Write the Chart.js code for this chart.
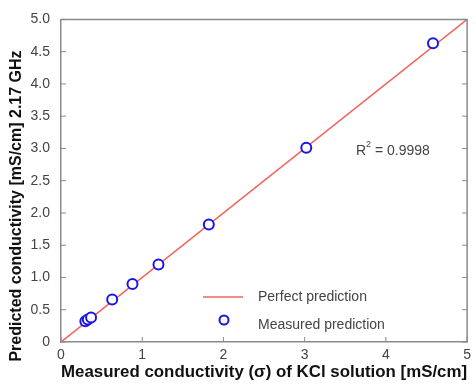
<!DOCTYPE html>
<html>
<head>
<meta charset="utf-8">
<script src="https://cdn.jsdelivr.net/npm/chart.js@4.4.1/dist/chart.umd.min.js"></script>
<style>
  html, body { margin: 0; padding: 0; background: #fff; }
  #wrap { width: 476px; height: 384px; }
</style>
</head>
<body>
<div id="wrap"><canvas id="chart" width="476" height="384"></canvas></div>
<script>
// measured vs predicted conductivity (mS/cm)
const measuredX = [0.30, 0.33, 0.37, 0.63, 0.88, 1.20, 1.82, 3.02, 4.58];
const predictedY = [0.32, 0.35, 0.38, 0.66, 0.90, 1.20, 1.82, 3.01, 4.63];
const perfectLine = [0, 5];
const xTicks = [0, 1, 2, 3, 4, 5];
const yTicks = [0, 0.5, 1, 1.5, 2, 2.5, 3, 3.5, 4, 4.5, 5];
const r2Text = '0.9998';
const yTitle = 'Predicted conductivity [mS/cm] 2.17 GHz';

const axisColor = '#8a8a8a';
const textColor = '#444';
const fontFam = '"Liberation Sans", Arial, sans-serif';

// inward ticks, frame, y title, R² note and legend
const decor = {
    id: 'decor',
    afterDraw(chart) {
        const ctx = chart.ctx;
        const xs = chart.scales.x, ys = chart.scales.y;
        const a = chart.chartArea;
        ctx.save();
        ctx.strokeStyle = axisColor;
        ctx.lineWidth = 1.5;
        ctx.beginPath();
        ctx.moveTo(a.left, a.top);
        ctx.lineTo(a.right, a.top);
        ctx.lineTo(a.right, a.bottom);
        ctx.stroke();
        ctx.lineWidth = 1;
        ctx.beginPath();
        xTicks.forEach(v => {
            const px = xs.getPixelForValue(v);
            ctx.moveTo(px, a.bottom);
            ctx.lineTo(px, a.bottom - 5);
        });
        yTicks.forEach(v => {
            const py = ys.getPixelForValue(v);
            ctx.moveTo(a.left, py);
            ctx.lineTo(a.left + 5, py);
            ctx.moveTo(a.right, py);
            ctx.lineTo(a.right - 5, py);
        });
        ctx.stroke();

        // y title
        ctx.save();
        ctx.translate(17, 206);
        ctx.rotate(-Math.PI / 2);
        ctx.fillStyle = '#111';
        ctx.font = 'bold 16px ' + fontFam;
        ctx.textAlign = 'center';
        ctx.textBaseline = 'middle';
        ctx.fillText(yTitle, 0, 0);
        ctx.restore();

        // R² text
        ctx.fillStyle = textColor;
        ctx.font = '14px ' + fontFam;
        ctx.textBaseline = 'middle';
        ctx.textAlign = 'left';
        ctx.fillText('R', 356, 151);
        const rw = ctx.measureText('R').width;
        ctx.font = '9px ' + fontFam;
        ctx.fillText('2', 356 + rw, 145);
        const sw = ctx.measureText('2').width;
        ctx.font = '14px ' + fontFam;
        ctx.fillText(' = ' + r2Text, 356 + rw + sw, 151);

        // legend
        const d0 = chart.data.datasets[0], d1 = chart.data.datasets[1];
        ctx.strokeStyle = d0.borderColor;
        ctx.lineWidth = d0.borderWidth;
        ctx.beginPath();
        ctx.moveTo(203, 297);
        ctx.lineTo(243, 297);
        ctx.stroke();
        ctx.strokeStyle = d1.borderColor;
        ctx.fillStyle = '#fff';
        ctx.lineWidth = d1.borderWidth;
        ctx.beginPath();
        ctx.arc(224, 320, 4.5, 0, Math.PI * 2);
        ctx.fill();
        ctx.stroke();
        ctx.fillStyle = textColor;
        ctx.fillText(d0.label, 258, 297);
        ctx.fillText(d1.label, 258, 325);
        ctx.restore();
    }
};

const ctx = document.getElementById('chart').getContext('2d');
const chart = new Chart(ctx, {
    data: {
        datasets: [{
            type: 'line',
            label: 'Perfect prediction',
            data: perfectLine.map(v => ({x: v, y: v})),
            borderColor: '#f2625c',
            borderWidth: 1.5,
            pointRadius: 0,
            order: 2
        },
        {
            type: 'scatter',
            label: 'Measured prediction',
            data: measuredX.map((v, i) => ({x: v, y: predictedY[i]})),
            borderColor: '#1a14e6',
            backgroundColor: '#fff',
            borderWidth: 2,
            pointRadius: 5,
            order: 1
        }]
    },
    options: {
        responsive: false,
        animation: false,
        layout: { padding: { top: 16, right: 4, left: 0, bottom: 0 } },
        plugins: { legend: { display: false }, tooltip: { enabled: false } },
        scales: {
            x: {
                type: 'linear', min: 0, max: 5,
                afterBuildTicks: s => { s.ticks = xTicks.map(v => ({value: v})); },
                afterFit: s => { s.height = 42; },
                grid: { drawOnChartArea: false, drawTicks: false },
                border: { color: axisColor, width: 1.5 },
                ticks: { color: textColor, font: { size: 14, family: fontFam }, padding: 5 },
                title: {
                    display: true,
                    text: 'Measured conductivity (\u03c3) of KCl solution [mS/cm]',
                    color: '#111',
                    font: { size: 17, weight: 'bold', family: fontFam },
                    padding: { top: 0, bottom: 1 }
                }
            },
            y: {
                type: 'linear', min: 0, max: 5,
                afterBuildTicks: s => { s.ticks = yTicks.map(v => ({value: v})); },
                afterFit: s => { s.width = 61; },
                grid: { drawOnChartArea: false, drawTicks: false },
                border: { color: axisColor, width: 1.5 },
                ticks: {
                    color: textColor, font: { size: 14, family: fontFam }, padding: 11,
                    callback: v => v === 0 ? '0' : v.toFixed(1)
                },
                title: { display: false }
            }
        }
    },
    plugins: [decor]
});
</script>
</body>
</html>
